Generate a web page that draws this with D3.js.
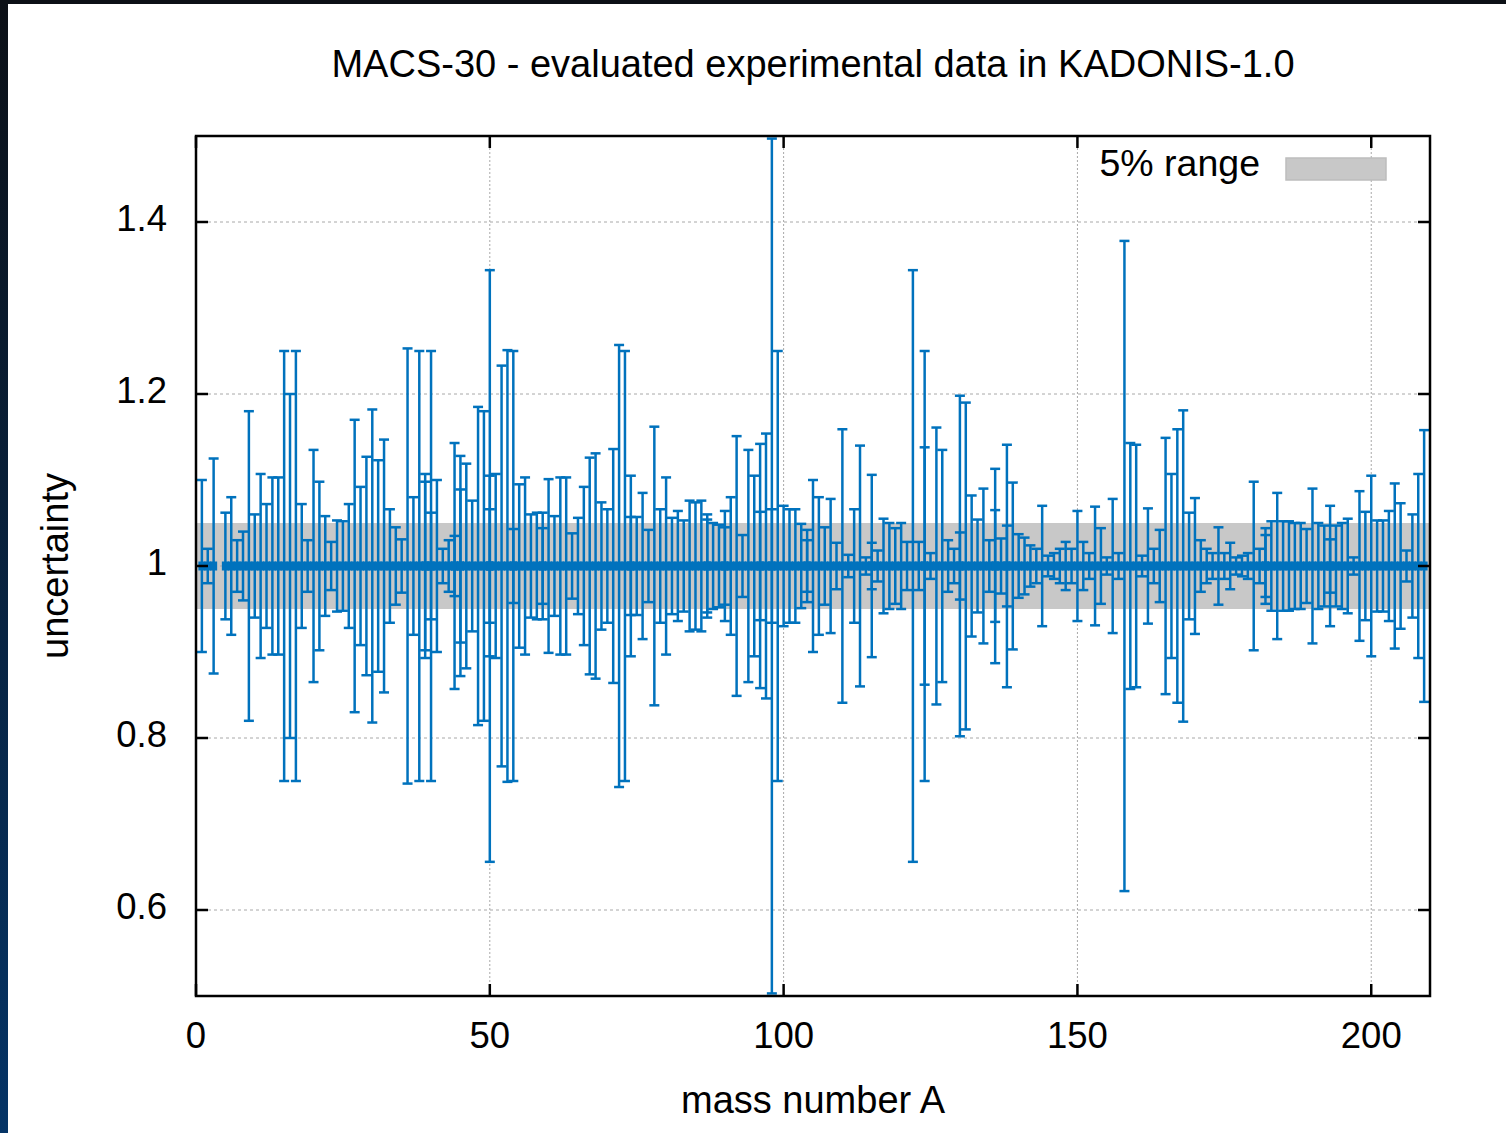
<!DOCTYPE html>
<html>
<head>
<meta charset="utf-8">
<script src="https://cdn.jsdelivr.net/npm/d3@7/dist/d3.min.js"></script>
<style>
  html, body { margin: 0; padding: 0; background: #fff; }
  svg { display: block; }
  text { font-family: "Liberation Sans", Arial, sans-serif; fill: #000; }
</style>
</head>
<body>
<svg id="chart" width="1506" height="1133"></svg>
<script>
// ---- data (mass number A, relative uncertainty) ----
const massNumbers = [
  1,2,3,5,6,7,8,9,10,11,12,13,14,15,16,17,18,19,20,
  21,22,23,24,25,26,27,28,29,30,31,32,33,34,35,36,37,38,39,39,40,40,
  41,42,43,44,44,45,45,46,47,48,49,50,50,50,51,52,53,54,54,55,56,57,58,59,59,60,
  61,62,63,64,65,66,67,68,69,70,71,72,73,74,74,75,76,77,78,79,80,
  81,82,83,84,85,86,87,87,88,89,90,90,91,92,93,94,95,96,96,97,98,98,99,100,
  101,102,103,104,104,105,106,107,108,109,110,111,112,113,114,115,115,116,117,118,119,120,
  121,122,123,124,124,125,126,127,128,129,130,130,131,132,133,134,135,136,136,137,138,138,139,140,
  141,142,143,144,145,146,147,148,149,150,151,152,153,154,155,156,157,158,159,160,
  161,162,163,164,165,166,167,168,169,170,171,172,173,174,175,176,177,178,179,180,
  181,182,182,183,184,185,186,187,188,189,190,191,192,193,193,194,195,196,197,198,199,200,
  201,202,203,204,205,206,207,208,209
];
const uncertainties = [
  0.10,0.02,0.125,0.062,0.08,0.03,0.04,0.18,0.06,0.107,0.072,0.103,0.103,0.25,0.2,0.25,0.072,0.03,0.135,
  0.098,0.058,0.028,0.053,0.052,0.072,0.17,0.092,0.127,0.182,0.123,0.147,0.066,0.045,0.031,0.253,0.08,0.25,0.107,0.098,0.25,0.062,
  0.1,0.02,0.03,0.143,0.035,0.128,0.089,0.119,0.076,0.185,0.18,0.344,0.105,0.066,0.107,0.233,0.251,0.25,0.043,0.095,0.103,0.06,0.062,0.062,0.044,0.101,
  0.058,0.103,0.103,0.038,0.056,0.092,0.126,0.131,0.074,0.066,0.136,0.257,0.25,0.105,0.057,0.057,0.085,0.042,0.162,0.066,0.103,
  0.056,0.064,0.053,0.076,0.074,0.076,0.054,0.06,0.05,0.048,0.064,0.045,0.08,0.151,0.036,0.135,0.105,0.142,0.063,0.154,0.497,0.066,0.25,0.07,
  0.066,0.066,0.049,0.03,0.042,0.1,0.08,0.045,0.078,0.027,0.159,0.013,0.066,0.14,0.01,0.106,0.027,0.018,0.055,0.05,0.044,0.05,
  0.028,0.344,0.028,0.25,0.138,0.015,0.161,0.135,0.03,0.02,0.198,0.039,0.19,0.082,0.054,0.09,0.03,0.113,0.065,0.032,0.141,0.047,0.097,0.037,
  0.033,0.024,0.02,0.07,0.012,0.015,0.02,0.028,0.02,0.064,0.028,0.015,0.069,0.044,0.01,0.078,0.015,0.378,0.143,0.141,
  0.012,0.067,0.02,0.042,0.149,0.107,0.159,0.181,0.062,0.079,0.03,0.02,0.015,0.045,0.015,0.027,0.01,0.012,0.015,0.098,
  0.02,0.044,0.036,0.052,0.085,0.052,0.052,0.05,0.05,0.043,0.09,0.05,0.047,0.07,0.031,0.047,0.05,0.055,0.01,0.087,0.063,0.105,
  0.053,0.053,0.064,0.096,0.073,0.018,0.06,0.107,0.158
];
const xTicks = [0, 50, 100, 150, 200];
const yTicks = [0.6, 0.8, 1.0, 1.2, 1.4];
const bandHalfWidth = 0.05;
const titleText = "MACS-30 - evaluated experimental data in KADONIS-1.0";
const xLabelText = "mass number A";
const yLabelText = "uncertainty";
const legendText = "5% range";

const points = massNumbers.map((a, i) => ({ a, e: uncertainties[i] }));

// ---- layout ----
const svg = d3.select("#chart");
const W = 1506, H = 1133;
const L = 196, R = 1430, T = 136, B = 996;
const blue = "#0072bd";

const x = d3.scaleLinear().domain([0, 210]).range([L, R]);
const y = d3.scaleLinear().domain([0.5, 1.5]).range([B, T]);

// page background & dark edges
const defs = svg.append("defs");
const grad = defs.append("linearGradient").attr("id", "edge").attr("x1", 0).attr("y1", 0).attr("x2", 0).attr("y2", 1);
grad.append("stop").attr("offset", "0%").attr("stop-color", "#0c1016");
grad.append("stop").attr("offset", "100%").attr("stop-color", "#053466");
svg.append("rect").attr("width", W).attr("height", H).attr("fill", "#fff");
svg.append("rect").attr("x", 0).attr("y", 0).attr("width", 8).attr("height", H).attr("fill", "url(#edge)");
svg.append("rect").attr("x", 0).attr("y", 0).attr("width", W).attr("height", 4).attr("fill", "#0c1016");

const clip = defs.append("clipPath").attr("id", "plotclip");
clip.append("rect").attr("x", L).attr("y", T - 2).attr("width", R - L).attr("height", B - T + 4);

// 5% band
svg.append("rect")
  .attr("x", L).attr("width", R - L)
  .attr("y", y(1 + bandHalfWidth)).attr("height", y(1 - bandHalfWidth) - y(1 + bandHalfWidth))
  .attr("fill", "#c8c8c8");

// grid
const grid = svg.append("g").attr("stroke", "#a8a8a8").attr("stroke-width", 1).attr("stroke-dasharray", "3,3");
grid.selectAll("line.gy").data(yTicks).join("line")
  .attr("x1", L).attr("x2", R).attr("y1", d => y(d)).attr("y2", d => y(d));
grid.selectAll("line.gx").data(xTicks.filter(d => d > 0)).join("line")
  .attr("stroke-dasharray", "2,2")
  .attr("y1", T).attr("y2", B).attr("x1", d => x(d)).attr("x2", d => x(d));

// error bars
const bars = svg.append("g").attr("clip-path", "url(#plotclip)")
  .attr("stroke", blue).attr("stroke-width", 2.5).attr("fill", "none");
const capHalf = 5;
points.forEach(p => {
  const cx = x(p.a);
  const y1 = y(1 + p.e), y0 = y(1 - p.e);
  bars.append("line").attr("x1", cx).attr("x2", cx).attr("y1", y1).attr("y2", y0);
  bars.append("line").attr("x1", cx - capHalf).attr("x2", cx + capHalf).attr("y1", y1).attr("y2", y1);
  bars.append("line").attr("x1", cx - capHalf).attr("x2", cx + capHalf).attr("y1", y0).attr("y2", y0);
});

// central markers (thick band at y = 1)
svg.append("g").attr("clip-path", "url(#plotclip)")
  .selectAll("rect").data(points).join("rect")
  .attr("x", d => x(d.a - 0.6)).attr("width", x(1.2) - x(0))
  .attr("y", y(1) - 4.5).attr("height", 9)
  .attr("fill", blue);

// frame
svg.append("rect").attr("x", L).attr("y", T).attr("width", R - L).attr("height", B - T)
  .attr("fill", "none").attr("stroke", "#000").attr("stroke-width", 2.5);

// ticks (inward, mirrored)
const tk = svg.append("g").attr("stroke", "#000").attr("stroke-width", 2.5);
const tl = 12;
yTicks.forEach(v => {
  tk.append("line").attr("x1", L).attr("x2", L + tl).attr("y1", y(v)).attr("y2", y(v));
  tk.append("line").attr("x1", R).attr("x2", R - tl).attr("y1", y(v)).attr("y2", y(v));
});
xTicks.forEach(v => {
  tk.append("line").attr("x1", x(v)).attr("x2", x(v)).attr("y1", B).attr("y2", B - tl);
  tk.append("line").attr("x1", x(v)).attr("x2", x(v)).attr("y1", T).attr("y2", T + tl);
});

// tick labels
const fmtY = d => (d === 1 ? "1" : d3.format(".1f")(d));
svg.append("g").selectAll("text").data(yTicks).join("text")
  .attr("x", 167).attr("y", d => y(d) + 9)
  .attr("text-anchor", "end").attr("font-size", 36.5)
  .text(fmtY);
svg.append("g").selectAll("text").data(xTicks).join("text")
  .attr("x", d => x(d)).attr("y", 1048)
  .attr("text-anchor", "middle").attr("font-size", 36.5)
  .text(d => d);

// titles
svg.append("text").attr("x", (L + R) / 2).attr("y", 77)
  .attr("text-anchor", "middle").attr("font-size", 38).text(titleText);
svg.append("text").attr("x", (L + R) / 2).attr("y", 1113)
  .attr("text-anchor", "middle").attr("font-size", 38).text(xLabelText);
svg.append("text").attr("transform", `translate(68,${(T + B) / 2}) rotate(-90)`)
  .attr("text-anchor", "middle").attr("font-size", 38).text(yLabelText);

// legend
svg.append("text").attr("x", 1260).attr("y", 176)
  .attr("text-anchor", "end").attr("font-size", 37.5).text(legendText);
svg.append("rect").attr("x", 1286).attr("y", 158).attr("width", 100).attr("height", 22)
  .attr("fill", "#c8c8c8").attr("stroke", "#bdbdbd").attr("stroke-width", 1.5);
</script>
</body>
</html>
